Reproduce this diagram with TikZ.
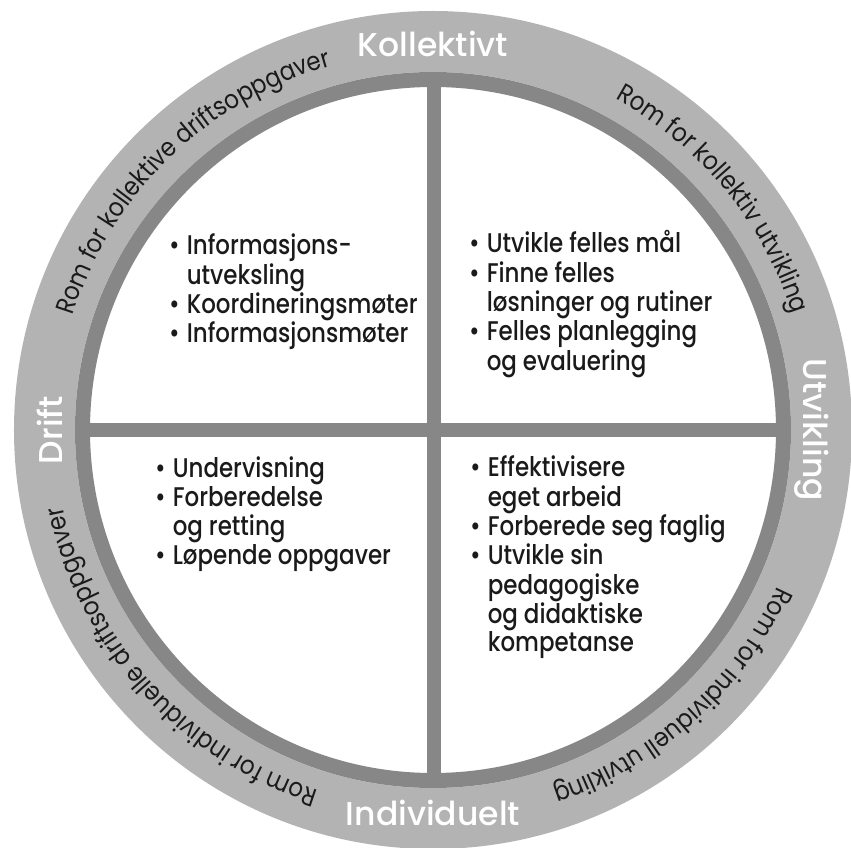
\documentclass[tikz,border=0pt]{standalone}
\usepackage{fontspec}
\usetikzlibrary{decorations.text}
\setmainfont{Poppins}
\newfontfamily\bandfont[FakeStretch=0.88]{Poppins}
\IfFontExistsTF{Poppins Medium}
  {\newfontfamily\headfont{Poppins Medium}%
   \newfontfamily\listfont[FakeStretch=0.85]{Poppins Medium}}
  {\newfontfamily\headfont{Poppins}%
   \newfontfamily\listfont[FakeStretch=0.88]{Poppins}}
\definecolor{ringlight}{RGB}{179,179,179}
\definecolor{ringdark}{RGB}{135,135,135}
\definecolor{inktext}{RGB}{26,26,26}
\newcommand\itemdot{\textbullet}
\newcommand\curvefont{\bandfont\fontsize{26}{26}\selectfont}

\begin{document}
\begin{tikzpicture}[x=1pt,y=1pt,
  ringlabel/.style={text=white,inner sep=0pt,font=\headfont\fontsize{33}{33}\selectfont},
  listbox/.style={text=inktext,inner sep=0pt,anchor=base west,
    font=\listfont\fontsize{27}{28.3}\selectfont},
  divider/.style={draw=ringdark,line width=14.5pt},
  ringtext/.style={decorate,decoration={text along path,text align=center,
    text color=inktext,text={|\curvefont|#1}}}]
\useasboundingbox (-433,-418) rectangle (418,430);

% outer band, inner rim and white disc
\fill[ringlight] (0,0) circle[radius=419];
\fill[white] (0,0) circle[radius=358];
\draw[ringdark,line width=15pt] (0,0) circle[radius=350.5];

% dividing cross
\coordinate (ctop) at (1,350);
\coordinate (cbottom) at (1,-350);
\coordinate (cleft) at (-350,0);
\coordinate (cright) at (350,0);
\draw[divider] (ctop) -- (cbottom);
\draw[divider] (cleft) -- (cright);

% axis labels on the band
\node[ringlabel,anchor=base] (kollektivt) at (0,373) {Kollektivt};
\node[ringlabel,anchor=base] (individuelt) at (0,-395) {Individuelt};
\node[ringlabel,anchor=base,rotate=90] (drift) at (-370,0) {Drift};
\node[ringlabel,anchor=base,rotate=-90] (utvikling) at (370,0) {Utvikling};

% curved captions along the band
\path[ringtext={Rom for kollektive driftsoppgaver}]
  (184:378) arc[start angle=184,end angle=84,radius=378];
\path[ringtext={Rom for kollektiv utvikling}]
  (89.5:378) arc[start angle=89.5,end angle=-10.5,radius=378];
\path[ringtext={Rom for individuell utvikling}]
  (2:378) arc[start angle=2,end angle=-98,radius=378];
\path[ringtext={Rom for individuelle driftsoppgaver}]
  (272:378) arc[start angle=272,end angle=172,radius=378];

% quadrant contents
\node[listbox] (q1) at (-264,175) {\begin{tabular}[t]{@{}l@{\hspace{7pt}}l@{}}
\itemdot & Informasjons-\\
 & utveksling\\
\itemdot & Koordineringsmøter\\
\itemdot & Informasjonsmøter
\end{tabular}};
\node[listbox] (q2) at (36,177) {\begin{tabular}[t]{@{}l@{\hspace{7pt}}l@{}}
\itemdot & Utvikle felles mål\\
\itemdot & Finne felles\\
 & løsninger og rutiner\\
\itemdot & Felles planlegging\\
 & og evaluering
\end{tabular}};
\node[listbox] (q3) at (-278,-48) {\begin{tabular}[t]{@{}l@{\hspace{7pt}}l@{}}
\itemdot & Undervisning\\
\itemdot & Forberedelse\\
 & og retting\\
\itemdot & Løpende oppgaver
\end{tabular}};
\node[listbox] (q4) at (37,-47) {\begin{tabular}[t]{@{}l@{\hspace{7pt}}l@{}}
\itemdot & Effektivisere\\
 & eget arbeid\\
\itemdot & Forberede seg faglig\\
\itemdot & Utvikle sin\\
 & pedagogiske\\
 & og didaktiske\\
 & kompetanse
\end{tabular}};
\end{tikzpicture}
\end{document}
